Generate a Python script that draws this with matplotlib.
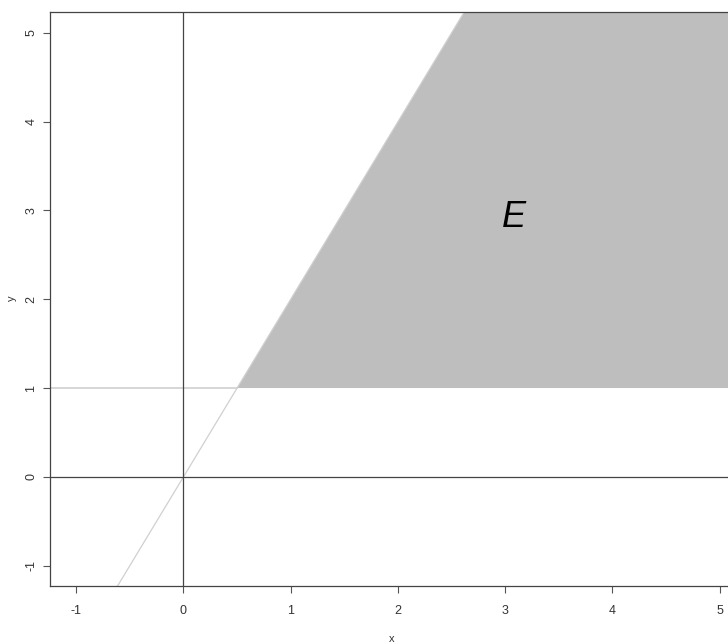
import numpy as np
from matplotlib import pyplot as plt
from matplotlib.patches import Polygon

# region E = {(x, y): y >= 1, y <= 2x}
slope = 2.0
y_floor = 1.0
x_lim = (-1.245, 5.19)
y_lim = (-1.23, 5.236)
x_ticks = [-1, 0, 1, 2, 3, 4, 5]
y_ticks = [-1, 0, 1, 2, 3, 4, 5]
label_pos = (3.08, 2.92)

plt.rcParams['font.family'] = ['Liberation Sans', 'DejaVu Sans']

fig = plt.figure(figsize=(7.28, 6.43), dpi=100)
ax = fig.add_axes([50 / 728, 57 / 643, 690 / 728, 574 / 643])
ax.set_xlim(*x_lim)
ax.set_ylim(*y_lim)

# shaded region, clipped by the axes
x_corner = y_floor / slope
top = 10.0
verts = [(x_corner, y_floor), (top / slope, top), (top, top), (top, y_floor)]
ax.add_patch(Polygon(verts, closed=True, facecolor='#bebebe', edgecolor='none', zorder=1))

# boundary lines
xs = np.array([x_lim[0], top / slope])
ax.plot(xs, slope * xs, color='#d0d0d0', lw=0.9, zorder=2)
ax.plot([x_lim[0], x_corner], [y_floor, y_floor], color='#d0d0d0', lw=1.2, zorder=2)

# coordinate axes
ax.axhline(0, color='#444444', lw=0.9, zorder=3)
ax.axvline(0, color='#444444', lw=0.9, zorder=3)

ax.text(*label_pos, 'E', fontsize=26, style='italic', ha='center', va='center', zorder=4)

ax.set_xticks(x_ticks)
ax.set_yticks(y_ticks)
ax.set_xticklabels([str(t) for t in x_ticks])
ax.set_yticklabels([str(t) for t in y_ticks], rotation=90, va='center')
ax.tick_params(direction='out', length=5, width=0.8, colors='#555555',
               labelcolor='#333333', labelsize=9)
ax.tick_params(axis='x', pad=9)
ax.tick_params(axis='y', pad=4)
for side in ['left', 'bottom', 'top']:
    ax.spines[side].set_color('#444444')
    ax.spines[side].set_linewidth(0.9)
ax.spines['right'].set_visible(False)

ax.set_xlabel('x', fontsize=8, color='#333333')
ax.set_ylabel('y', fontsize=8, color='#333333')
ax.xaxis.set_label_coords((392 - 50) / 690, -(634 - 586) / 574)
ax.yaxis.set_label_coords(-(50 - 17) / 690, (586 - 298) / 574)

fig.savefig('out.png', dpi=100)
